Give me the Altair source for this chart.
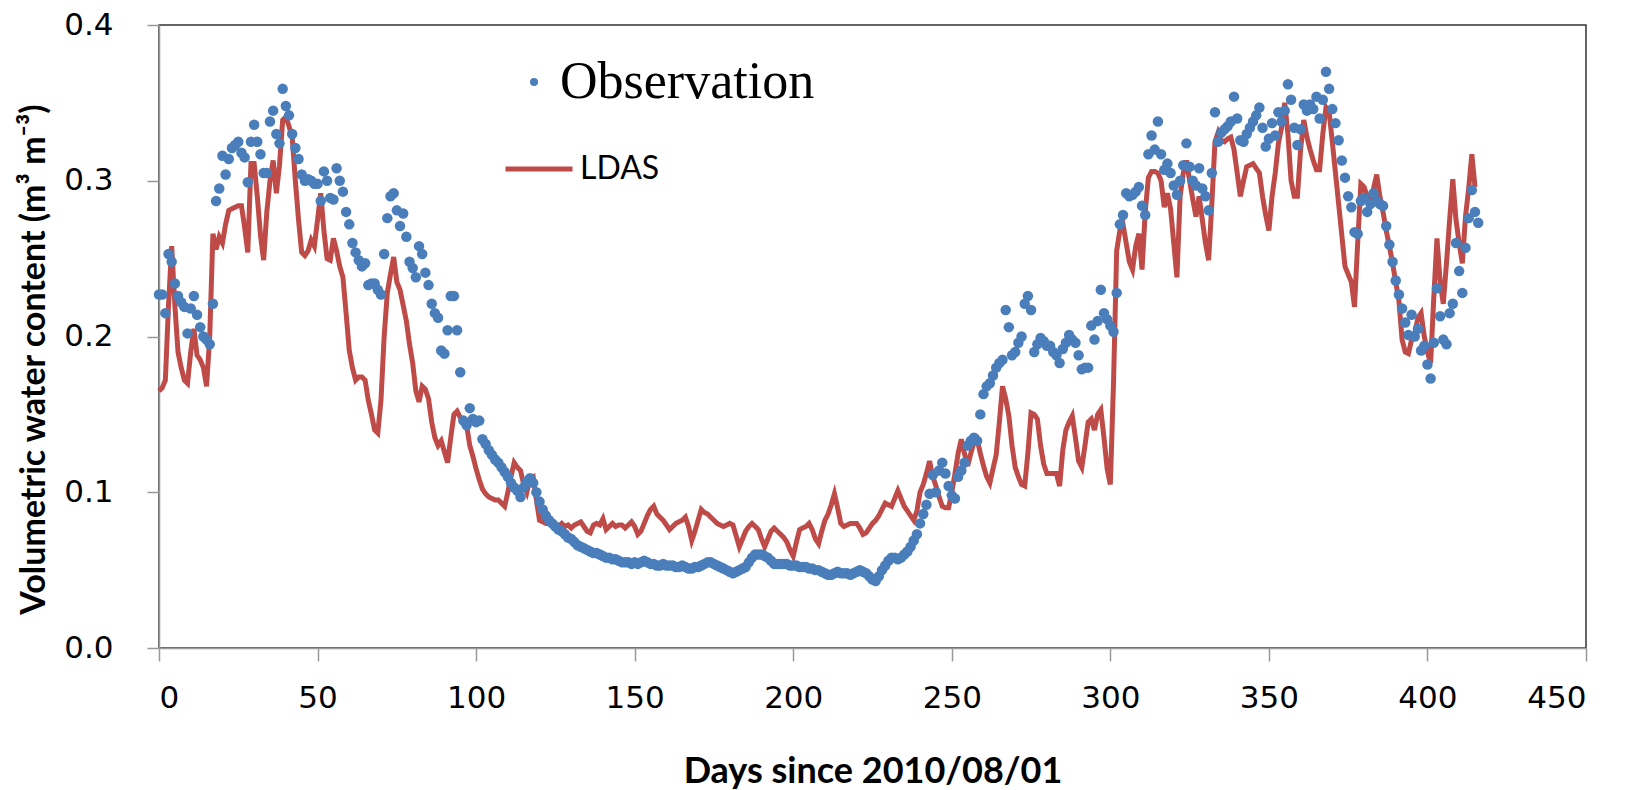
import altair as alt
import pandas as pd

# Observed volumetric water content, one value per day starting at day 0
obs = [
    0.227, 0.227, 0.215, 0.253, 0.248, 0.234, 0.226, 0.222, 0.219, 0.202,
    0.218, 0.226, 0.214, 0.206, 0.200, 0.198, 0.195, 0.221, 0.287, 0.295,
    0.316, 0.304, 0.314, 0.321, 0.323, 0.325, 0.318, 0.315, 0.299, 0.325,
    0.336, 0.325, 0.317, 0.305, 0.305, 0.338, 0.345, 0.330, 0.324, 0.359,
    0.348, 0.342, 0.330, 0.321, 0.314, 0.304, 0.300, 0.301, 0.300, 0.298,
    0.298, 0.287, 0.306, 0.300, 0.289, 0.288, 0.308, 0.300, 0.293, 0.280,
    0.272, 0.260, 0.254, 0.249, 0.245, 0.247, 0.233, 0.234, 0.234, 0.230,
    0.227, 0.253, 0.276, 0.290, 0.292, 0.281, 0.271, 0.279, 0.264, 0.248,
    0.244, 0.238, 0.258, 0.253, 0.241, 0.233, 0.221, 0.215, 0.212, 0.191,
    0.189, 0.204, 0.226, 0.226, 0.204, 0.177, 0.146, 0.143, 0.154, 0.147,
    0.145, 0.146, 0.134, 0.131, 0.127, 0.124, 0.121, 0.119, 0.116, 0.113,
    0.110, 0.106, 0.103, 0.101, 0.097, 0.103, 0.107, 0.109, 0.106, 0.100,
    0.094, 0.089, 0.085, 0.082, 0.080, 0.078, 0.076, 0.075, 0.073, 0.071,
    0.070, 0.068, 0.066, 0.065, 0.064, 0.063, 0.062, 0.061, 0.061, 0.060,
    0.059, 0.058, 0.058, 0.057, 0.057, 0.056, 0.055, 0.055, 0.055, 0.054,
    0.055, 0.054, 0.055, 0.056, 0.055, 0.054, 0.054, 0.053, 0.053, 0.054,
    0.053, 0.053, 0.053, 0.052, 0.052, 0.053, 0.052, 0.051, 0.051, 0.052,
    0.052, 0.053, 0.054, 0.055, 0.055, 0.054, 0.053, 0.052, 0.051, 0.050,
    0.049, 0.048, 0.049, 0.050, 0.051, 0.052, 0.055, 0.058, 0.060, 0.060,
    0.060, 0.059, 0.058, 0.056, 0.054, 0.054, 0.054, 0.054, 0.054, 0.053,
    0.053, 0.053, 0.052, 0.052, 0.052, 0.051, 0.051, 0.050, 0.050, 0.049,
    0.048, 0.047, 0.047, 0.048, 0.049, 0.048, 0.048, 0.048, 0.047, 0.048,
    0.049, 0.050, 0.049, 0.048, 0.046, 0.044, 0.043, 0.046, 0.050, 0.053,
    0.056, 0.058, 0.058, 0.057, 0.058, 0.060, 0.062, 0.065, 0.069, 0.073,
    0.080, 0.086, 0.092, 0.099, 0.111, 0.100, 0.114, 0.119, 0.112, 0.104,
    0.098, 0.096, 0.110, 0.114, 0.119, 0.130, 0.133, 0.135, 0.133, 0.150,
    0.163, 0.168, 0.170, 0.175, 0.180, 0.183, 0.185, 0.217, 0.206, 0.188,
    0.190, 0.196, 0.200, 0.221, 0.226, 0.217, 0.190, 0.195, 0.199, 0.197,
    0.194, 0.194, 0.190, 0.188, 0.183, 0.192, 0.196, 0.201, 0.198, 0.196,
    0.188, 0.179, 0.180, 0.180, 0.207, 0.198, 0.210, 0.230, 0.215, 0.211,
    0.207, 0.203, 0.228, 0.272, 0.278, 0.292, 0.290, 0.291, 0.293, 0.296,
    0.284, 0.278, 0.317, 0.329, 0.320, 0.338, 0.317, 0.307, 0.311, 0.305,
    0.297, 0.291, 0.300, 0.310, 0.324, 0.309, 0.300, 0.297, 0.308, 0.295,
    0.290, 0.281, 0.305, 0.344, 0.325, 0.331, 0.333, 0.335, 0.338, 0.354,
    0.340, 0.326, 0.325, 0.330, 0.334, 0.338, 0.342, 0.347, 0.334, 0.322,
    0.327, 0.337, 0.329, 0.344, 0.338, 0.345, 0.362, 0.352, 0.334, 0.323,
    0.333, 0.349, 0.345, 0.349, 0.346, 0.354, 0.340, 0.352, 0.370, 0.359,
    0.346, 0.337, 0.326, 0.313, 0.302, 0.290, 0.283, 0.267, 0.266, 0.287,
    0.289, 0.280, 0.285, 0.292, 0.287, 0.285, 0.284, 0.271, 0.259, 0.248,
    0.236, 0.227, 0.218, 0.209, 0.201, 0.214, 0.200, 0.205, 0.191, 0.194,
    0.182, 0.173, 0.196, 0.231, 0.213, 0.198, 0.195, 0.215, 0.221, 0.260,
    0.242, 0.228, 0.257, 0.276, 0.294, 0.280, 0.273,
]

# LDAS simulated volumetric water content, one value per day starting at day 0
ldas = [
    0.165, 0.167, 0.172, 0.220, 0.258, 0.220, 0.190, 0.180, 0.172, 0.170,
    0.190, 0.205, 0.188, 0.185, 0.180, 0.168, 0.200, 0.266, 0.256, 0.264,
    0.260, 0.272, 0.281, 0.282, 0.283, 0.284, 0.284, 0.270, 0.254, 0.311,
    0.311, 0.290, 0.265, 0.249, 0.280, 0.300, 0.313, 0.292, 0.310, 0.339,
    0.341, 0.335, 0.328, 0.300, 0.275, 0.254, 0.252, 0.255, 0.262, 0.258,
    0.275, 0.292, 0.268, 0.250, 0.249, 0.263, 0.255, 0.245, 0.238, 0.215,
    0.191, 0.180, 0.172, 0.174, 0.174, 0.172, 0.159, 0.150, 0.140, 0.138,
    0.159, 0.200, 0.228, 0.240, 0.251, 0.235, 0.230, 0.220, 0.210, 0.195,
    0.183, 0.165, 0.158, 0.168, 0.166, 0.160, 0.145, 0.135, 0.130, 0.133,
    0.126, 0.119, 0.135, 0.150, 0.152, 0.148, 0.145, 0.143, 0.130, 0.123,
    0.115, 0.108, 0.102, 0.099, 0.097, 0.096, 0.095, 0.095, 0.093, 0.091,
    0.100, 0.110, 0.119, 0.116, 0.114, 0.105, 0.100, 0.109, 0.110, 0.095,
    0.082, 0.081, 0.080, 0.080, 0.079, 0.079, 0.078, 0.080, 0.078, 0.079,
    0.077, 0.079, 0.080, 0.081, 0.078, 0.075, 0.074, 0.079, 0.080, 0.079,
    0.083, 0.076, 0.078, 0.080, 0.078, 0.079, 0.079, 0.077, 0.079, 0.081,
    0.078, 0.073, 0.075, 0.080, 0.085, 0.089, 0.091, 0.086, 0.084, 0.082,
    0.079, 0.076, 0.078, 0.080, 0.081, 0.082, 0.084, 0.078, 0.069, 0.075,
    0.082, 0.089, 0.087, 0.086, 0.084, 0.082, 0.080, 0.079, 0.078, 0.079,
    0.080, 0.079, 0.072, 0.065, 0.070, 0.075, 0.078, 0.080, 0.078, 0.076,
    0.070, 0.065, 0.070, 0.075, 0.077, 0.075, 0.073, 0.071, 0.068, 0.063,
    0.059, 0.068, 0.076, 0.077, 0.078, 0.080, 0.076, 0.070, 0.067, 0.075,
    0.082, 0.086, 0.092, 0.099, 0.090, 0.080, 0.078, 0.079, 0.080, 0.080,
    0.080, 0.077, 0.073, 0.074, 0.077, 0.080, 0.082, 0.085, 0.089, 0.093,
    0.092, 0.091, 0.096, 0.101, 0.096, 0.091, 0.088, 0.085, 0.082, 0.088,
    0.100, 0.105, 0.112, 0.120, 0.110, 0.104, 0.097, 0.091, 0.090, 0.090,
    0.100, 0.112, 0.125, 0.134, 0.125, 0.117, 0.125, 0.132, 0.134, 0.125,
    0.117, 0.110, 0.106, 0.115, 0.124, 0.145, 0.168, 0.160, 0.149, 0.130,
    0.116, 0.110, 0.105, 0.104, 0.125, 0.151, 0.150, 0.147, 0.130, 0.118,
    0.112, 0.112, 0.112, 0.112, 0.104, 0.127, 0.140, 0.145, 0.149, 0.135,
    0.120, 0.116, 0.130, 0.145, 0.147, 0.140, 0.150, 0.153, 0.135, 0.115,
    0.105, 0.170, 0.255, 0.268, 0.272, 0.260, 0.248, 0.243, 0.258, 0.266,
    0.243, 0.280, 0.302, 0.306, 0.306, 0.305, 0.300, 0.283, 0.292, 0.282,
    0.260, 0.238, 0.290, 0.305, 0.313, 0.300, 0.288, 0.277, 0.290, 0.275,
    0.260, 0.249, 0.285, 0.325, 0.331, 0.326, 0.325, 0.327, 0.328, 0.320,
    0.305, 0.290, 0.300, 0.309, 0.310, 0.311, 0.308, 0.305, 0.290, 0.278,
    0.268, 0.290, 0.305, 0.324, 0.334, 0.350, 0.330, 0.300, 0.290, 0.290,
    0.320, 0.339, 0.328, 0.320, 0.313, 0.307, 0.307, 0.330, 0.347, 0.344,
    0.325, 0.305, 0.285, 0.265, 0.245, 0.240, 0.235, 0.219, 0.260, 0.298,
    0.296, 0.290, 0.283, 0.295, 0.304, 0.290, 0.280, 0.268, 0.258, 0.247,
    0.235, 0.223, 0.198, 0.190, 0.189, 0.198, 0.202, 0.212, 0.215, 0.200,
    0.190, 0.183, 0.225, 0.263, 0.235, 0.221, 0.247, 0.275, 0.301, 0.275,
    0.260, 0.247, 0.277, 0.295, 0.317, 0.296,
]

x_ticks = [0, 50, 100, 150, 200, 250, 300, 350, 400, 450]
y_ticks = [0.0, 0.1, 0.2, 0.3, 0.4]
series_names = ["Observation", "LDAS"]
series_colors = ["#4a7ebb", "#be4b48"]

obs_df = pd.DataFrame({"day": list(range(len(obs))), "vwc": obs, "series": series_names[0]})
ldas_df = pd.DataFrame({"day": list(range(len(ldas))), "vwc": ldas, "series": series_names[1]})

x_enc = alt.X(
    "day:Q",
    scale=alt.Scale(domain=[0, 450], nice=False, zero=False),
    axis=alt.Axis(
        values=x_ticks, format="d", title="Days since 2010/08/01",
        tickSize=13, labelPadding=22,
        labelFont="DejaVu Sans", labelFontSize=31,
        titleFont="Lato", titleFontWeight="bold", titleFontSize=36,
        titleBaseline="alphabetic", titleY=134,
    ),
)
y_enc = alt.Y(
    "vwc:Q",
    scale=alt.Scale(domain=[0, 0.4], nice=False),
    axis=alt.Axis(
        values=y_ticks, format=".1f", title="Volumetric water content (m³ m⁻³)",
        tickSize=12, labelPadding=34,
        labelFont="DejaVu Sans", labelFontSize=31,
        titleFont="Lato", titleFontWeight="bold", titleFontSize=34,
        titleBaseline="alphabetic", titleX=-115, titleY=334, titleAngle=270,
    ),
)

line = alt.Chart(ldas_df).mark_line(strokeWidth=5).encode(
    x=x_enc,
    y=y_enc,
    stroke=alt.Stroke(
        "series:N",
        scale=alt.Scale(domain=[series_names[1]], range=[series_colors[1]]),
        legend=alt.Legend(
            title=None, orient="none", legendX=344, legendY=108, padding=0,
            symbolType="stroke", symbolSize=4489, symbolStrokeWidth=5,
            labelFont="Lato", labelFontSize=32, labelColor="#000", labelOffset=5,
            labelLimit=0,
        ),
    ),
)

points = alt.Chart(obs_df).mark_circle(size=110, opacity=1).encode(
    x=x_enc,
    y=y_enc,
    fill=alt.Fill(
        "series:N",
        scale=alt.Scale(domain=[series_names[0]], range=[series_colors[0]]),
        legend=alt.Legend(
            title=None, orient="none", legendX=349, legendY=31, padding=0,
            symbolType="circle", symbolSize=64, symbolOpacity=1,
            labelFont="Liberation Serif", labelFontSize=52, labelColor="#000", labelOffset=0,
            labelLimit=0,
        ),
    ),
)

chart = (
    alt.layer(line, points)
    .properties(
        width=1427, height=623,
        autosize=alt.AutoSizeParams(type="none"),
        padding={"left": 159, "top": 25, "right": 46, "bottom": 142},
        background="white",
    )
    .configure_view(stroke="#333", strokeWidth=1.5)
    .configure_axis(
        grid=False, domainColor="#999", domainWidth=1.5, tickColor="#999", tickWidth=1.5,
        labelColor="#000", titleColor="#000", zindex=1,
    )
)

chart.save("out.html", embed_options={"renderer": "svg", "actions": False})
